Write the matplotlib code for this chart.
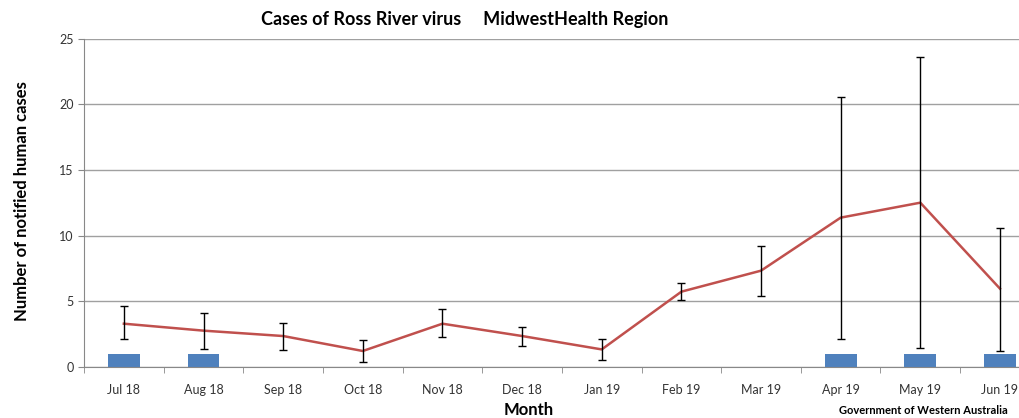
import numpy as np
import matplotlib.pyplot as plt

plt.rcParams['font.family'] = ['Lato', 'DejaVu Sans']

months = ["Jul 18", "Aug 18", "Sep 18", "Oct 18", "Nov 18", "Dec 18",
          "Jan 19", "Feb 19", "Mar 19", "Apr 19", "May 19", "Jun 19"]
cases = [1, 1, 0, 0, 0, 0, 0, 0, 0, 1, 1, 1]
mean_cases = [3.3, 2.77, 2.36, 1.22, 3.3, 2.36, 1.34, 5.74, 7.34, 11.38, 12.52, 5.97]
upper = [4.65, 4.09, 3.38, 2.03, 4.45, 3.05, 2.16, 6.43, 9.25, 20.6, 23.6, 10.6]
lower = [2.1, 1.37, 1.32, 0.38, 2.26, 1.63, 0.53, 5.1, 5.44, 2.1, 1.47, 1.24]

x = np.arange(len(months))
mean_arr = np.array(mean_cases)
yerr = [mean_arr - np.array(lower), np.array(upper) - mean_arr]

fig = plt.figure(figsize=(10.2, 4.18), dpi=100)
ax = fig.add_axes([0.0824, 0.122, 0.937, 0.785])

ax.bar(x, cases, width=0.4, color="#4F81BD", zorder=2)
ax.plot(x, mean_cases, color="#C0504D", lw=1.8, zorder=3)
ax.errorbar(x, mean_cases, yerr=yerr, fmt="none", ecolor="black",
            elinewidth=1, capsize=3, capthick=1, zorder=4)

ax.set_xlim(-0.5, len(months) - 0.5)
ax.set_ylim(0, 25)
ax.set_yticks(np.arange(0, 26, 5))
ax.set_xticks(x)
ax.set_xticklabels(months, fontsize=9, color="#333333")
ax.set_xticks(np.arange(-0.5, len(months), 1), minor=True)
ax.tick_params(axis="x", which="major", length=0, pad=12)
ax.tick_params(axis="x", which="minor", length=4, color="#888888")
ax.tick_params(axis="y", length=4, color="#888888", labelsize=9, labelcolor="#333333")

ax.grid(axis="y", color="#a0a0a0", lw=1, zorder=0)
ax.set_axisbelow(True)
for side in ["top", "right"]:
    ax.spines[side].set_visible(False)
ax.spines["left"].set_color("#888888")
ax.spines["bottom"].set_color("#888888")

fig.text(0.456, 0.953, "Cases of Ross River virus     MidwestHealth Region",
         ha="center", va="center", fontsize=13, fontweight="bold")
fig.text(0.022, 0.52, "Number of notified human cases", rotation=90,
         ha="center", va="center", fontsize=12, fontweight="bold")
fig.text(0.518, 0.02, "Month", ha="center", va="center", fontsize=12, fontweight="bold")
fig.text(0.823, 0.004, "Government of Western Australia", ha="left", va="bottom",
         fontsize=8, fontweight="bold")

fig.savefig("out.png", dpi=100)
